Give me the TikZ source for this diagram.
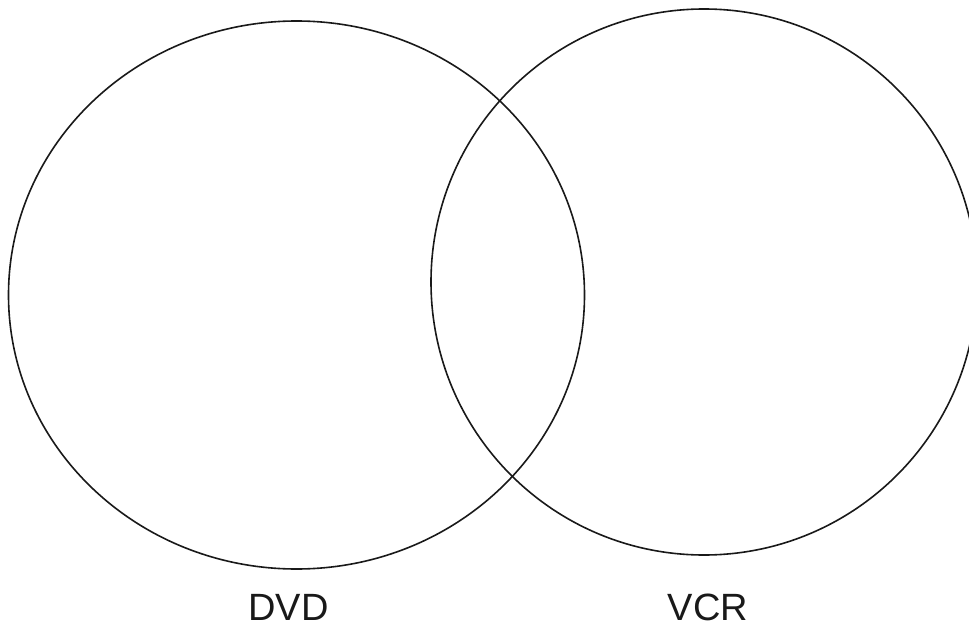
\documentclass[tikz,border=0pt]{standalone}
\usepackage{fontspec}
\setmainfont{Liberation Sans}
\begin{document}
\begin{tikzpicture}[x=1pt,y=-1pt,
  setline/.style={draw=black!90,line width=1.6pt},
  setlabel/.style={font=\fontsize{38}{38}\selectfont,text=black!90,inner sep=0pt,anchor=base}]
\useasboundingbox (0,0) rectangle (969,626);
\begin{scope}
\clip (0,0) rectangle (969,626);
\draw[setline] (296.5,295) ellipse [x radius=288, y radius=274];
\draw[setline] (704,282) circle [radius=273];
\end{scope}
\node[setlabel] (dvd) at (288.5,620.5) {DVD};
\node[setlabel] (vcr) at (708,620.5) {VCR};
\end{tikzpicture}
\end{document}
